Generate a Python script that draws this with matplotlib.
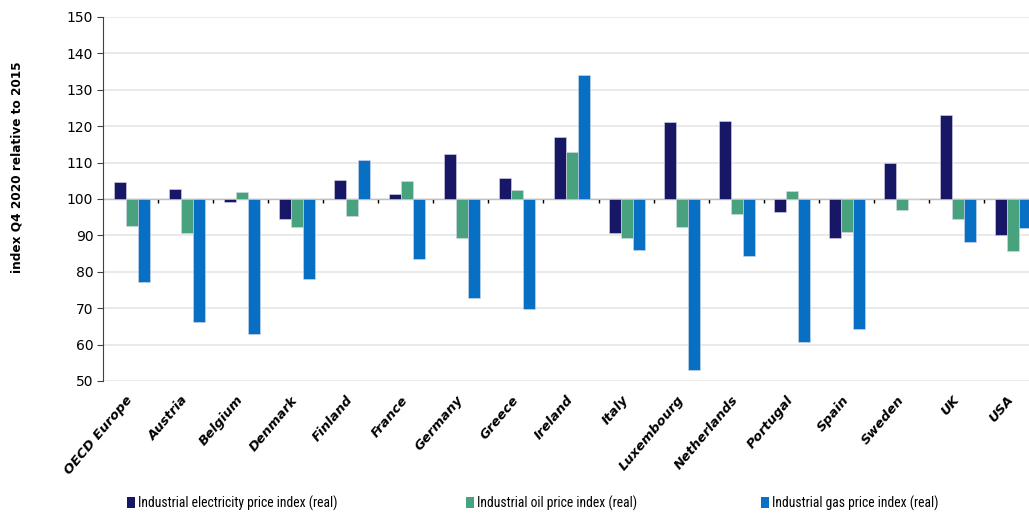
import matplotlib.pyplot as plt
import numpy as np
from matplotlib.patches import Patch
from matplotlib import font_manager

countries = ["OECD Europe", "Austria", "Belgium", "Denmark", "Finland", "France",
             "Germany", "Greece", "Ireland", "Italy", "Luxembourg", "Netherlands",
             "Portugal", "Spain", "Sweden", "UK", "USA"]
electricity = [104.6, 102.8, 99.3, 94.5, 105.3, 101.5, 112.3, 105.8, 117.1, 90.6,
               121.2, 121.4, 96.5, 89.4, 109.9, 123.1, 90.0]
oil = [92.7, 90.6, 101.9, 92.3, 95.3, 104.9, 89.2, 102.6, 112.9, 89.2,
       92.4, 96.0, 102.3, 91.0, 96.9, 94.5, 85.8]
gas = [77.1, 66.3, 62.8, 78.0, 110.8, 83.5, 72.8, 69.8, 134.2, 86.0,
       53.0, 84.4, 60.6, 64.4, 100.0, 88.1, 91.9]
series_names = ["Industrial electricity price index (real)",
                "Industrial oil price index (real)",
                "Industrial gas price index (real)"]
colors = ["#171766", "#48A27E", "#0870C4"]

# pick a narrow font for the legend if one is installed
names = {f.name for f in font_manager.fontManager.ttflist}
narrow = None
for cand in ["Liberation Sans Narrow", "Roboto Condensed", "Open Sans Condensed"]:
    if cand in names:
        narrow = font_manager.FontProperties(family=cand, size=9.8)
        break
if narrow is None:
    cond = [f for f in font_manager.fontManager.ttflist
            if f.name == "DejaVu Sans" and "ondensed" in f.fname and f.style == "normal"
            and f.weight in (400, "normal")]
    if cond:
        narrow = font_manager.FontProperties(fname=cond[0].fname, size=9.8)
    else:
        narrow = font_manager.FontProperties(family="DejaVu Sans", size=8.5)

fig = plt.figure(figsize=(10.29, 5.14), dpi=100)
ax = fig.add_axes([103 / 1029, 1 - 381 / 514, 936 / 1029, 364 / 514])

x = np.arange(len(countries))
w = 0.218
for i, vals in enumerate([electricity, oil, gas]):
    v = np.array(vals)
    ax.bar(x + (i - 1) * w + 0.02, v - 100, bottom=100, width=w, color=colors[i],
           edgecolor="#d8d8e8", linewidth=0.4, zorder=3)

ax.set_ylim(50, 150)
ax.set_xlim(-0.5, len(countries) - 0.5)
ax.set_yticks(range(50, 151, 10))
ax.yaxis.grid(True, color="#e6e6e6", linewidth=1.2, zorder=0)
ax.set_axisbelow(True)
for s in ["top", "right", "bottom"]:
    ax.spines[s].set_visible(False)
ax.spines["left"].set_color("#404040")
ax.tick_params(axis="y", length=4, color="#404040", labelsize=10, pad=3)

ax.set_xticks(x)
ax.set_xticklabels(countries, rotation=50, ha="right", va="center",
                   rotation_mode="anchor", fontsize=9.5, fontweight="bold",
                   fontstyle="italic")
ax.tick_params(axis="x", length=0, pad=12)

# axis line at 100 with boundary ticks
sec = ax.secondary_xaxis(0.5)
sec.set_xticks(np.arange(0.5, len(countries) - 0.5, 1.0))
sec.set_xticklabels([])
sec.tick_params(axis="x", direction="in", length=3, width=1, color="black")
sec.spines["bottom"].set_color("black")
sec.spines["bottom"].set_linewidth(1.2)
sec.spines["bottom"].set_zorder(5)

fig.text(17 / 1029, 1 - 167 / 514, "index Q4 2020 relative to 2015", rotation=90,
         ha="center", va="center", fontsize=8.7, fontweight="bold")

legend_x = [127, 466, 761]
for name, c, lx in zip(series_names, colors, legend_x):
    fig.legend([Patch(facecolor=c, edgecolor="none")], [name], loc="center left",
               bbox_to_anchor=(lx / 1029, 1 - 503 / 514), frameon=False,
               prop=narrow, handlelength=0.6, handleheight=0.9,
               handletextpad=0.2, borderpad=0, borderaxespad=0)

fig.savefig("out.png", dpi=100)
